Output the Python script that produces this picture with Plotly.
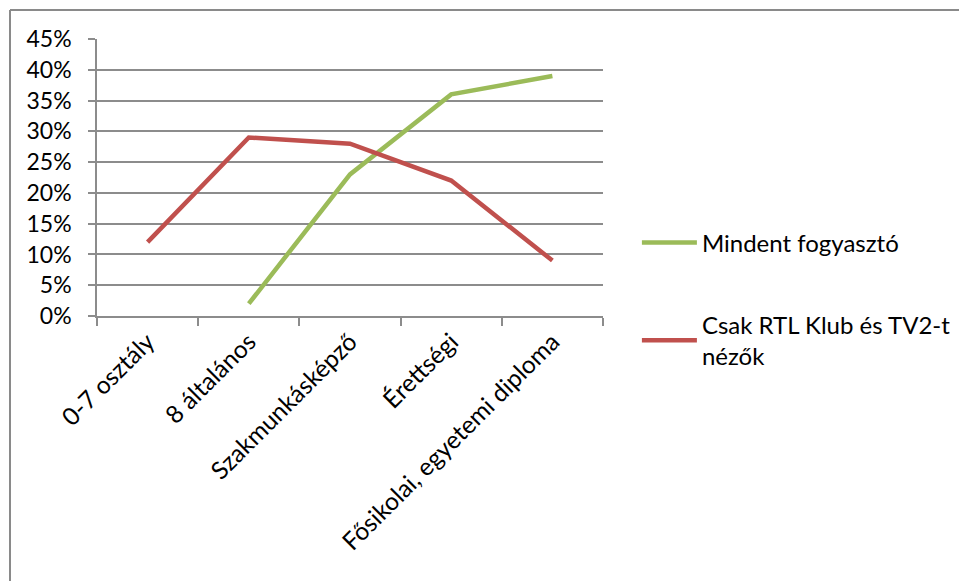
import plotly.graph_objects as go

# Education levels on the category axis
categories = ["0-7 osztály", "8 általános", "Szakmunkásképző", "Érettségi",
              "Fősikolai, egyetemi diploma"]

# Share of each viewer group (fractions)
mindent = [None, 0.02, 0.23, 0.36, 0.39]
csak_rtl_tv2 = [0.12, 0.29, 0.28, 0.22, 0.09]

series_names = ["Mindent fogyasztó", "Csak RTL Klub és TV2-t<br>nézők"]
y_ticks = [0, 0.05, 0.10, 0.15, 0.20, 0.25, 0.30, 0.35, 0.40, 0.45]

W, H = 959, 581
L, R, T, B = 97, 356, 39, 265
font_family = "Lato, 'Open Sans', sans-serif"
grid_col = "#8c8c8c"

fig = go.Figure()
fig.add_trace(go.Scatter(x=categories, y=mindent, mode="lines",
                         name=series_names[0], legendgroup="a",
                         line=dict(color="#9BBB59", width=4.5)))
fig.add_trace(go.Scatter(x=categories, y=csak_rtl_tv2, mode="lines",
                         name=series_names[1], legendgroup="b",
                         line=dict(color="#C0504D", width=4.5)))

fig.update_layout(
    width=W, height=H,
    margin=dict(l=L, r=R, t=T, b=B, autoexpand=False),
    paper_bgcolor="white", plot_bgcolor="white",
    font=dict(family=font_family, size=20, color="#000000"),
    showlegend=True,
    legend=dict(x=1.067, y=0.06, xanchor="left", yanchor="middle",
                font=dict(size=24), tracegroupgap=48,
                bgcolor="rgba(0,0,0,0)", itemwidth=55),
    xaxis=dict(type="category", range=[-0.5, 4.5], tickson="boundaries",
               ticks="outside", ticklen=8, tickcolor=grid_col, tickwidth=1.5,
               showline=True, linecolor=grid_col, linewidth=1.5,
               showgrid=False, tickangle=-45, tickfont=dict(size=24.5),
               fixedrange=True),
    yaxis=dict(range=[0, 0.45], tickvals=y_ticks, tickformat=".0%",
               ticks="outside", ticklen=7, tickcolor=grid_col, tickwidth=1.5,
               showline=True, linecolor=grid_col, linewidth=1.5,
               showgrid=True, gridcolor=grid_col, gridwidth=1.5,
               zeroline=False, tickfont=dict(size=23),
               ticklabelstandoff=12, fixedrange=True),
)

# Chart-area frame (left and top edges)
pw, ph = W - L - R, H - T - B
def px_x(p):
    return (p - L) / pw
def px_y(p):
    return (H - B - p) / ph
frame = dict(color="#8a8a8a", width=2)
fig.add_shape(type="line", xref="paper", yref="paper",
              x0=px_x(10), x1=px_x(W + 5), y0=px_y(10), y1=px_y(10), line=frame)
fig.add_shape(type="line", xref="paper", yref="paper",
              x0=px_x(10), x1=px_x(10), y0=px_y(10), y1=px_y(H + 5), line=frame)

fig.write_html("out.html")
